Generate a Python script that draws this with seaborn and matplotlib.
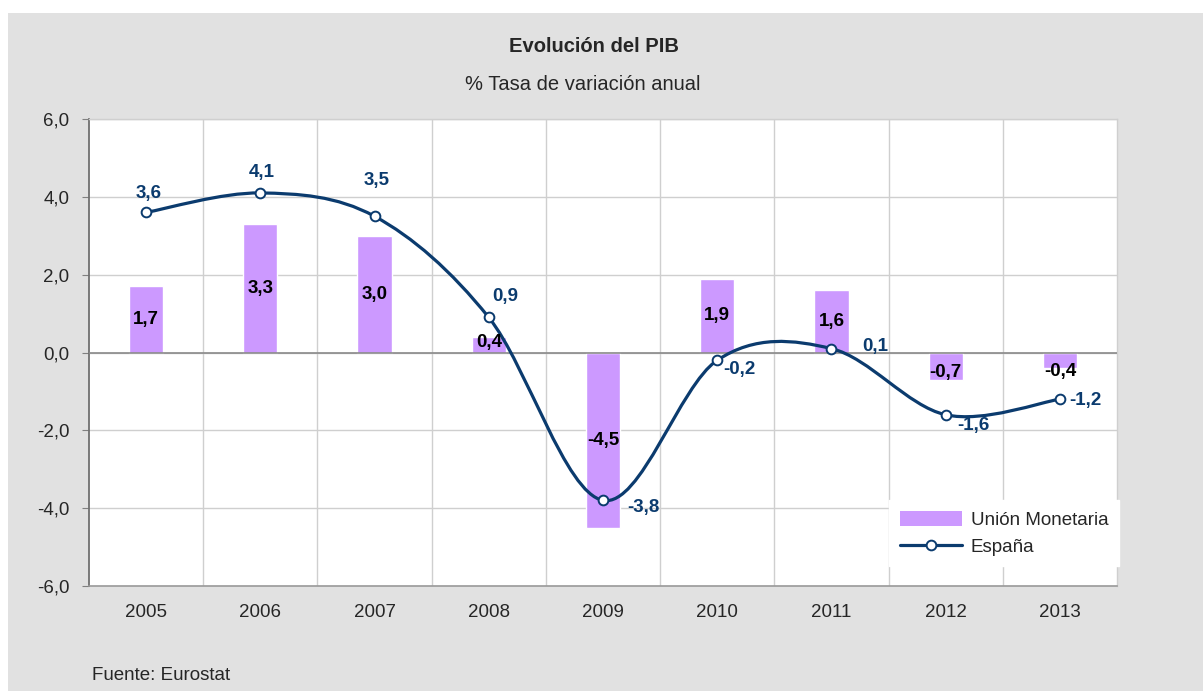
import matplotlib
matplotlib.use("Agg")
import matplotlib.pyplot as plt
from matplotlib.path import Path
from matplotlib.patches import PathPatch, Rectangle, Patch
from matplotlib.lines import Line2D
import numpy as np
import pandas as pd
import seaborn as sns

years = ["2005", "2006", "2007", "2008", "2009", "2010", "2011", "2012", "2013"]
union_monetaria = [1.7, 3.3, 3.0, 0.4, -4.5, 1.9, 1.6, -0.7, -0.4]
espana = [3.6, 4.1, 3.5, 0.9, -3.8, -0.2, 0.1, -1.6, -1.2]
y_ticks = [-6.0, -4.0, -2.0, 0.0, 2.0, 4.0, 6.0]

# label nudges in pixels (x, y up)
espana_offsets = [(3, 19), (1, 20), (2, 36), (16, 21), (40, -7), (22, -9), (44, 2), (28, -11), (25, -1)]
bar_offsets = [0, 0, 0, 2, 0, 0, 0, -6, -11]

bar_color = "#cc99ff"
line_color = "#0b3b6e"
grid_color = "#cfcfcf"

sns.set_style("white")
plt.rcParams["font.family"] = ["Liberation Sans", "DejaVu Sans"]

df = pd.DataFrame({"year": years, "um": union_monetaria, "es": espana})

fig = plt.figure(figsize=(12.03, 6.91), dpi=100)
fig.patch.set_facecolor("white")
fig.patches.append(Rectangle((8 / 1203, 0), 1, 1 - 13 / 691, transform=fig.transFigure,
                             facecolor="#e1e1e1", edgecolor="none", zorder=-10))

ax = fig.add_axes([89 / 1203, 1 - 586 / 691, (1117 - 89) / 1203, (586 - 119) / 691])
ax.set_facecolor("white")

sns.barplot(data=df, x="year", y="um", color=bar_color, width=0.3, saturation=1, ax=ax, zorder=2)

# Excel-style smoothed line drawn as bezier path through the points
xs = np.arange(len(espana), dtype=float)
ys = np.array(espana)
pts = np.column_stack([xs, ys])
verts = [pts[0]]
codes = [Path.MOVETO]
n = len(pts)
for i in range(n - 1):
    p0 = pts[i - 1] if i > 0 else pts[i]
    p1 = pts[i]
    p2 = pts[i + 1]
    p3 = pts[i + 2] if i + 2 < n else pts[i + 1]
    c1 = p1 + (p2 - p0) / 6
    c2 = p2 - (p3 - p1) / 6
    verts += [c1, c2, p2]
    codes += [Path.CURVE4] * 3
ax.add_patch(PathPatch(Path(verts, codes), facecolor="none", edgecolor=line_color, lw=2.3, zorder=4))
ax.plot(xs, ys, linestyle="none", marker="o", markersize=7, markerfacecolor="white",
        markeredgecolor=line_color, markeredgewidth=1.4, zorder=5)

for i, v in enumerate(espana):
    dx, dy = espana_offsets[i]
    ax.annotate(f"{v:.1f}".replace(".", ","), (i, v), xytext=(dx, dy), textcoords="offset pixels",
                ha="center", va="center", color=line_color, fontsize=13.5, fontweight="bold", zorder=6)
for i, v in enumerate(union_monetaria):
    ax.annotate(f"{v:.1f}".replace(".", ","), (i, v / 2), xytext=(0, bar_offsets[i]),
                textcoords="offset pixels", ha="center", va="center", color="black",
                fontsize=13.5, fontweight="bold", zorder=6)

ax.set_xlim(-0.5, len(years) - 0.5)
ax.set_ylim(-6, 6)
ax.set_yticks(y_ticks)
ax.set_yticklabels([f"{t:.1f}".replace(".", ",") for t in y_ticks], fontsize=13.5)
ax.set_xticks(range(len(years)))
ax.set_xticklabels(years, fontsize=13.5)
ax.set_xticks(np.arange(0.5, len(years) - 1, 1), minor=True)
ax.tick_params(axis="x", which="both", length=0, pad=13)
ax.tick_params(axis="y", which="major", length=5, direction="out", color="#808080", pad=9, left=True)
ax.grid(axis="y", which="major", color=grid_color, lw=1, zorder=0)
ax.grid(axis="x", which="minor", color=grid_color, lw=1, zorder=0)
ax.axhline(0, color="#8a8a8a", lw=1.2, zorder=3)
ax.set_xlabel("")
ax.set_ylabel("")
ax.set_axisbelow(True)
for side in ["top", "right"]:
    ax.spines[side].set_color(grid_color)
    ax.spines[side].set_linewidth(1)
ax.spines["left"].set_color("#707070")
ax.spines["left"].set_linewidth(1.3)
ax.spines["bottom"].set_color("#9a9a9a")
ax.spines["bottom"].set_linewidth(1.2)

handles = [Patch(facecolor=bar_color, edgecolor="none"),
           Line2D([0], [0], color=line_color, lw=2.3, marker="o", markersize=7,
                  markerfacecolor="white", markeredgecolor=line_color, markeredgewidth=1.4)]
leg = fig.legend(handles, ["Unión Monetaria", "España"], loc="upper left",
                 bbox_to_anchor=(880 / 1203, 1 - 491 / 691), frameon=True, fancybox=False,
                 fontsize=13.5, handlelength=3.3, handleheight=0.9, handletextpad=0.5,
                 borderpad=0.55, labelspacing=0.45)
leg.get_frame().set_facecolor("white")
leg.get_frame().set_edgecolor("white")
leg.get_frame().set_alpha(1)

fig.text(594 / 1203, 1 - 47 / 691, "Evolución del PIB", ha="center", va="center",
         fontsize=14.5, fontweight="bold")
fig.text(583 / 1203, 1 - 85 / 691, "% Tasa de variación anual", ha="center", va="center", fontsize=14.5)
fig.text(92 / 1203, 1 - 675 / 691, "Fuente: Eurostat", ha="left", va="center", fontsize=13.5)

fig.savefig("out.png", dpi=100)
